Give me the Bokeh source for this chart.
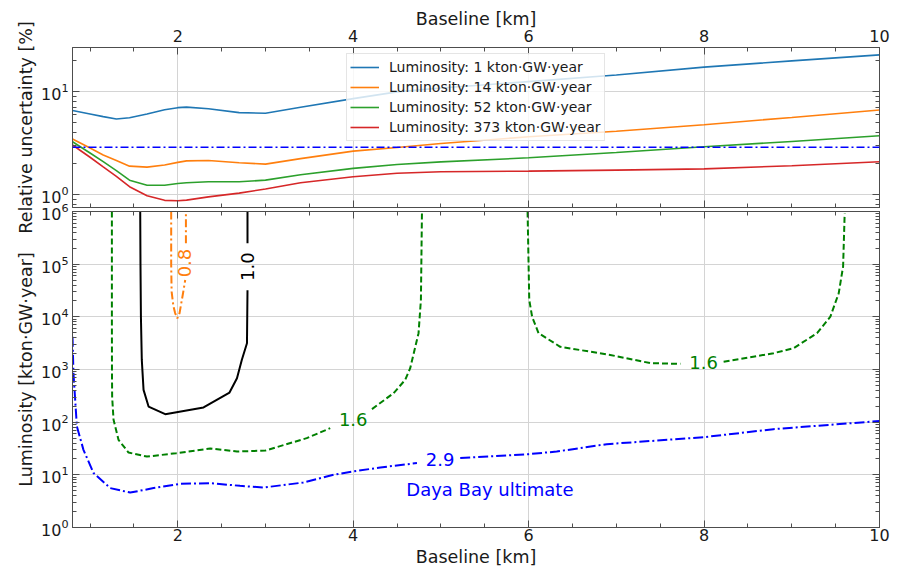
import math
from bokeh.plotting import figure
from bokeh.layouts import column
from bokeh.models import (LinearAxis, LogAxis, FixedTicker, SingleIntervalTicker,
                          Range1d, Span, ColumnDataSource, CustomJSTickFormatter)
from bokeh.core.properties import value
from bokeh.embed import file_html
from bokeh.resources import INLINE

NaN = float("nan")

# ---------------- top panel data: relative uncertainty [%] vs baseline ----------------
baseline_km = [0.8, 1.0, 1.15, 1.3, 1.45, 1.65, 1.85, 2.0, 2.1, 2.35, 2.7, 3.0, 3.4,
               4.0, 4.5, 5.0, 6.0, 7.0, 8.0, 9.0, 10.0]
unc_lumi_1 = [6.6, 6.1, 5.75, 5.46, 5.62, 6.1, 6.7, 7.03, 7.12, 6.87, 6.29, 6.2, 7.1,
              8.6, 10.0, 10.9, 12.6, 14.6, 17.4, 20.0, 22.9]
unc_lumi_14 = [3.49, 2.85, 2.44, 2.16, 1.9, 1.86, 1.95, 2.07, 2.14, 2.16, 2.05, 1.99, 2.25,
               2.66, 2.88, 3.15, 3.67, 4.15, 4.8, 5.65, 6.68]
unc_lumi_52 = [3.28, 2.55, 2.1, 1.72, 1.39, 1.24, 1.24, 1.29, 1.31, 1.34, 1.34, 1.39, 1.57,
               1.81, 1.97, 2.09, 2.29, 2.58, 2.93, 3.3, 3.75]
unc_lumi_373 = [3.05, 2.32, 1.87, 1.51, 1.2, 0.98, 0.885, 0.876, 0.89, 0.956, 1.04, 1.14, 1.31,
                1.5, 1.62, 1.68, 1.70, 1.74, 1.79, 1.92, 2.1]
series_labels = ["Luminosity: 1 kton\u00b7GW\u00b7year", "Luminosity: 14 kton\u00b7GW\u00b7year",
                 "Luminosity: 52 kton\u00b7GW\u00b7year", "Luminosity: 373 kton\u00b7GW\u00b7year"]
daya_bay_ultimate_pct = 2.9

# ---------------- bottom panel data: contour lines (baseline km, luminosity) ----------------
c10_x = [1.572, 1.575, 1.58, 1.59, 1.61, 1.667, 1.857, 2.294, 2.59, 2.675, 2.73, 2.789, 2.795, NaN, 2.795, 2.795]
c10_y = [1e6, 1e5, 1e4, 1520, 410, 198, 142, 190, 365, 684, 1520, 3155, 3.2e4, NaN, 2.5e5, 1e6]

c08_x = [1.925, 1.925, 1.93, 1.95, 1.97, 1.995, 2.02, 2.06, 2.085, NaN, 2.093, 2.093]
c08_y = [1e6, 1e5, 3e4, 1.6e4, 1.18e4, 9.4e3, 1.17e4, 2.8e4, 5e4, NaN, 2.5e5, 1e6]

c16a_x = [1.249, 1.249, 1.25, 1.252, 1.268, 1.325, 1.439, 1.648, 1.98, 2.37, 2.675, 3.0, 3.47, 3.738,
          NaN, 4.214, 4.46, 4.593, 4.65, 4.745, 4.772, 4.784]
c16a_y = [1e6, 1e4, 1e3, 300, 111, 46, 26.5, 22.2, 25.7, 31.6, 27.7, 28.9, 49.7, 76.9,
          NaN, 177, 355, 635, 1060, 4900, 2.1e4, 1e6]

c16b_x = [5.988, 6.007, 6.04, 6.113, 6.36, 6.93, 7.387, 7.73, NaN, 8.223, 8.793, 9.02, 9.288,
          9.44, 9.535, 9.585, 9.603]
c16b_y = [1e6, 2.1e4, 1e4, 4900, 2700, 1890, 1320, 1280, NaN, 1400, 2040, 2540, 4890,
          1.01e4, 2.8e4, 9e4, 9.2e5]

c29_x = [0.8, 0.811, 0.85, 0.925, 1.04, 1.23, 1.458, 1.724, 2.03, 2.37, 2.71, 2.978, 3.43, 3.776,
         4.0, 4.31, 4.727, NaN, 5.22, 6.0, 6.32, 6.89, 8.0, 8.79, 10.0]
c29_y = [4200, 850, 83, 29.8, 10.8, 5.6, 4.6, 5.6, 6.75, 6.95, 6.18, 5.74, 7.14, 10.0,
         11.6, 13.8, 16.7, NaN, 20.8, 24.7, 27.7, 38.2, 51.9, 73.6, 105]

clabel_text = ["1.0", "0.8", "1.6", "1.6", "2.9"]
clabel_x = [2.795, 2.08, 4.0, 7.995, 4.99]
clabel_y = [9e4, 1.05e5, 114, 1350, 19.3]
clabel_angle = [math.pi / 2, math.pi / 2, 0, 0, 0]
clabel_color = ["#000000", "#ff7f0e", "#008000", "#008000", "#0000ff"]

note_text = ["Daya Bay ultimate"]
note_x = [4.605]
note_y = [5.2]

# ---------------- styling ----------------
FONT = "DejaVu Sans"
AXC = "#4d4d4d"
GRIDC = "#d4d4d4"
TXT = "#1a1a1a"
C_BLUE, C_ORANGE, C_GREEN, C_RED = "#1f77b4", "#ff7f0e", "#2ca02c", "#d62728"


def style_axis(ax, show_labels):
    ax.axis_line_color = AXC
    ax.major_tick_line_color = AXC
    ax.minor_tick_line_color = AXC
    ax.major_tick_in = 7
    ax.major_tick_out = 0
    ax.minor_tick_in = 4
    ax.minor_tick_out = 0
    ax.major_label_text_font = FONT
    ax.major_label_text_color = TXT
    ax.axis_label_text_font = FONT
    ax.axis_label_text_font_style = "normal"
    ax.axis_label_text_font_size = "17.5px"
    ax.axis_label_text_color = TXT
    if show_labels:
        ax.major_label_text_font_size = "16px"
    else:
        ax.formatter = CustomJSTickFormatter(code="return ' '")
        ax.major_label_text_font_size = "1px"
        ax.major_label_standoff = 0


x_rng = Range1d(0.8, 10.0)
x_tick = SingleIntervalTicker(interval=2, num_minor_ticks=4)

top_minor = [0.8, 0.9] + [float(k) for k in range(2, 10)] + [20.0]
yt_top = FixedTicker(ticks=[1, 10], minor_ticks=top_minor)
bot_minor = [k * 10.0 ** d for d in range(0, 6) for k in range(2, 10)]
yt_bot = FixedTicker(ticks=[10.0 ** d for d in range(0, 7)], minor_ticks=bot_minor)

# ---------------- top figure ----------------
p1 = figure(frame_width=807, frame_height=160, x_range=x_rng, y_range=Range1d(0.754, 27.0),
            y_axis_type="log", x_axis_location="above", output_backend="svg",
            toolbar_location=None, min_border_left=72, min_border_right=22,
            min_border_top=47, min_border_bottom=30)
p1.outline_line_color = AXC
ax_top = p1.xaxis[0]
ax_top.ticker = x_tick
style_axis(ax_top, True)
ax_top.axis_label = "Baseline [km]"
ax_top.major_label_standoff = 6
ax_top.axis_label_standoff = -2
ax_l1 = p1.yaxis[0]
ax_l1.ticker = yt_top
style_axis(ax_l1, True)
ax_l1.axis_label = "Relative uncertainty [%]"
ax_l1.major_label_standoff = 4
ax_l1.axis_label_standoff = 2
ax_b1 = LinearAxis(ticker=x_tick)
style_axis(ax_b1, False)
p1.add_layout(ax_b1, "below")
ax_r1 = LogAxis(ticker=yt_top)
style_axis(ax_r1, False)
p1.add_layout(ax_r1, "right")
p1.xgrid.ticker = x_tick
p1.ygrid.ticker = yt_top
p1.xgrid.grid_line_color = GRIDC
p1.ygrid.grid_line_color = GRIDC

for ys, col, lab in zip([unc_lumi_1, unc_lumi_14, unc_lumi_52, unc_lumi_373],
                        [C_BLUE, C_ORANGE, C_GREEN, C_RED], series_labels):
    p1.line(baseline_km, ys, line_color=col, line_width=1.6, legend_label=lab)

p1.add_layout(Span(location=daya_bay_ultimate_pct, dimension="width", line_color="#0000ff",
                   line_width=1.5, line_dash="8 3 2 3"))

leg = p1.legend[0]
leg.location = (274, 66)
leg.label_text_font = FONT
leg.label_text_font_size = "14px"
leg.label_text_color = TXT
leg.glyph_width = 29
leg.glyph_height = 20
leg.label_height = 20
leg.spacing = 0
leg.padding = 3
leg.margin = 0
leg.label_standoff = 10
leg.border_line_color = "#cccccc"
leg.background_fill_alpha = 0.8

# ---------------- bottom figure ----------------
p2 = figure(frame_width=807, frame_height=316, x_range=x_rng, y_range=Range1d(1, 1e6),
            y_axis_type="log", output_backend="svg", toolbar_location=None,
            min_border_left=72, min_border_right=22, min_border_top=14, min_border_bottom=43,
            border_fill_color=None, margin=(-40, 0, 0, 0))
p2.outline_line_color = AXC
p2.background_fill_color = "white"
ax_b2 = p2.xaxis[0]
ax_b2.ticker = x_tick
style_axis(ax_b2, True)
ax_b2.axis_label = "Baseline [km]"
ax_b2.major_label_standoff = 1
ax_b2.axis_label_standoff = 3
ax_l2 = p2.yaxis[0]
ax_l2.ticker = yt_bot
style_axis(ax_l2, True)
ax_l2.axis_label = "Luminosity [kton\u00b7GW\u00b7year]"
ax_l2.major_label_standoff = 4
ax_l2.axis_label_standoff = 2
ax_t2 = LinearAxis(ticker=x_tick)
style_axis(ax_t2, False)
p2.add_layout(ax_t2, "above")
ax_r2 = LogAxis(ticker=yt_bot)
style_axis(ax_r2, False)
p2.add_layout(ax_r2, "right")
p2.xgrid.ticker = x_tick
p2.ygrid.ticker = yt_bot
p2.xgrid.grid_line_color = GRIDC
p2.ygrid.grid_line_color = GRIDC

p2.line(c29_x, c29_y, line_color="#0000ff", line_width=2, line_dash="10 3 2 3")
p2.line(c16a_x, c16a_y, line_color="#008000", line_width=2, line_dash="6 3")
p2.line(c16b_x, c16b_y, line_color="#008000", line_width=2, line_dash="6 3")
p2.line(c10_x, c10_y, line_color="#000000", line_width=2)
p2.line(c08_x, c08_y, line_color="#ff7f0e", line_width=2, line_dash="8 3 2 3")

lab_src = ColumnDataSource(dict(x=clabel_x, y=clabel_y, text=clabel_text,
                                angle=clabel_angle, color=clabel_color))
p2.text(x="x", y="y", text="text", angle="angle", text_color="color", source=lab_src,
        text_font=value(FONT), text_font_size="18px", text_align="center",
        text_baseline="middle")
p2.text(x=note_x, y=note_y, text=note_text, text_color="#0000ff", text_font=value(FONT),
        text_font_size="18px", text_align="left", text_baseline="middle")

layout = column(p1, p2)
open("out.html", "w").write(file_html(layout, INLINE))
